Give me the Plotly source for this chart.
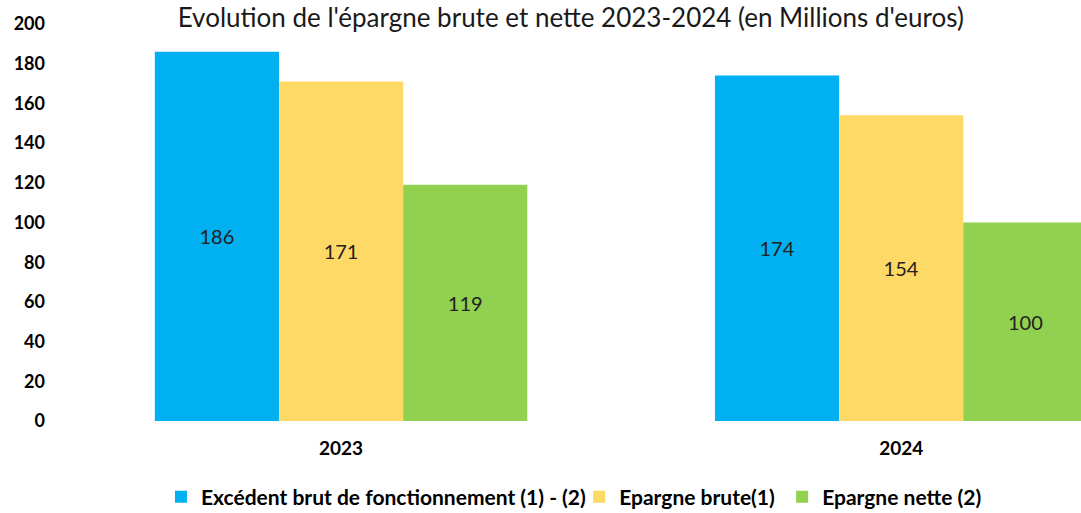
import plotly.graph_objects as go

annees = ["2023", "2024"]
excedent_brut = [186, 174]
epargne_brute = [171, 154]
epargne_nette = [119, 100]

series = [
    ("Excédent brut de fonctionnement (1) - (2)", excedent_brut, "#00B0F0", "legend", 0.098),
    ("Epargne brute(1)", epargne_brute, "#FFD966", "legend2", 0.508),
    ("Epargne nette (2)", epargne_nette, "#92D050", "legend3", 0.707),
]

police = "Lato, 'Open Sans', sans-serif"

fig = go.Figure()
legendes = {}
for nom, valeurs, couleur, leg, xpos in series:
    fig.add_trace(go.Bar(
        x=annees, y=valeurs, name=nom, legend=leg,
        marker=dict(color=couleur, line=dict(width=0)),
        text=[str(v) for v in valeurs],
        textposition="inside", insidetextanchor="middle", textangle=0,
        textfont=dict(size=20, color="#222", family=police),
        constraintext="none",
    ))
    legendes[leg] = dict(
        orientation="h", x=xpos, xanchor="left",
        yref="container", y=0.031, yanchor="middle",
        font=dict(size=21, color="#000", family=police, weight="bold"),
        itemwidth=30, bgcolor="rgba(0,0,0,0)",
    )

fig.update_layout(
    width=1081, height=513,
    barmode="group", bargap=0.335, bargroupgap=0,
    plot_bgcolor="white", paper_bgcolor="white",
    margin=dict(l=61, r=0, t=24, b=92, autoexpand=False),
    title=dict(
        text="Evolution de l'épargne brute et nette 2023-2024 (en Millions d'euros)",
        x=0.528, xanchor="center", y=0.965, yanchor="middle",
        font=dict(size=26, color="#1a1a1a", family=police),
    ),
    font=dict(family=police, color="#000"),
    showlegend=True,
    **legendes,
)

fig.update_xaxes(
    range=[-0.5, 1.321], showgrid=False, showline=False, ticks="",
    tickfont=dict(size=19, color="#000", family=police, weight="bold"),
    ticklabelstandoff=14,
)
fig.update_yaxes(
    range=[0, 200], dtick=20, showgrid=False, showline=False, zeroline=False,
    ticks="", tickfont=dict(size=18, color="#000", family=police, weight="bold"),
    ticklabelstandoff=15,
)

# pas de marge de page autour de la figure
fig.write_html("out.html", config={"displayModeBar": False},
               post_script="document.body.style.margin='0';")
